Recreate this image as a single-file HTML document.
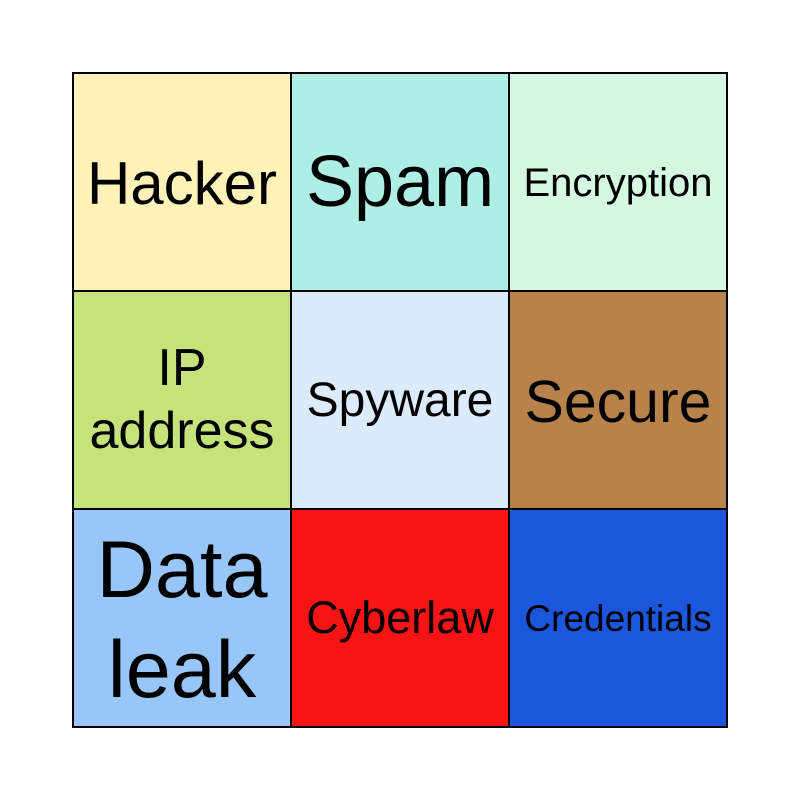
<!DOCTYPE html>
<html><head><meta charset="utf-8"><style>html,body{margin:0;padding:0;background:#fff}svg{display:block}</style></head>
<body>
<svg width="800" height="800" viewBox="0 0 800 800" xmlns="http://www.w3.org/2000/svg" font-family="Liberation Sans, Arial, sans-serif" text-anchor="middle">
<rect x="73" y="73" width="218" height="218" fill="#FFF2B8"/>
<rect x="291" y="73" width="218" height="218" fill="#AFEEE5"/>
<rect x="509" y="73" width="218" height="218" fill="#D4F8E0"/>
<rect x="73" y="291" width="218" height="218" fill="#C5E37A"/>
<rect x="291" y="291" width="218" height="218" fill="#DCEBFB"/>
<rect x="509" y="291" width="218" height="218" fill="#B7834B"/>
<rect x="73" y="509" width="218" height="218" fill="#98C6F8"/>
<rect x="291" y="509" width="218" height="218" fill="#F81414"/>
<rect x="509" y="509" width="218" height="218" fill="#1C56DC"/>
<g stroke="#000" stroke-width="2" fill="none">
<rect x="73" y="73" width="654" height="654"/>
<line x1="291" y1="73" x2="291" y2="727"/><line x1="509" y1="73" x2="509" y2="727"/>
<line x1="73" y1="291" x2="727" y2="291"/><line x1="73" y1="509" x2="727" y2="509"/>
</g>
<g fill="#000">
<text x="182" y="204" font-size="60">Hacker</text>
<text x="400" y="206" font-size="72">Spam</text>
<text x="618" y="196" font-size="40">Encryption</text>
<text x="182" y="385" font-size="52">IP</text>
<text x="182" y="448" font-size="52">address</text>
<text x="400" y="416" font-size="48">Spyware</text>
<text x="618" y="422" font-size="59">Secure</text>
<text x="182" y="597" font-size="81">Data</text>
<text x="182" y="697" font-size="81">leak</text>
<text x="400" y="633" font-size="45">Cyberlaw</text>
<text x="618" y="631" font-size="37">Credentials</text>
</g>
</svg>
</body></html>
